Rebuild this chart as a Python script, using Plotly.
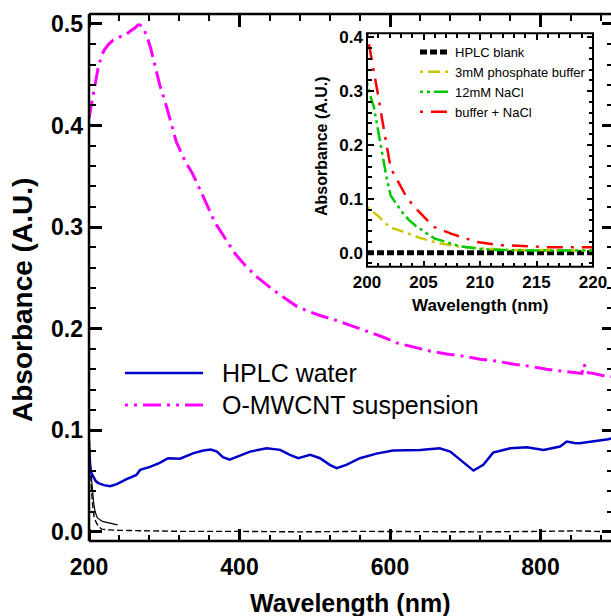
import plotly.graph_objects as go

# ---------------- data ----------------
water_nm = [200, 201.3, 203, 205.7, 209, 212.4, 220, 228, 237, 250, 263, 268, 281, 294, 305, 321, 339, 352,
            362, 370, 378, 387, 401, 414, 436, 454, 467, 478, 494, 507, 520, 529, 542, 560, 582, 604, 640,
            666, 680, 697, 711, 724, 737, 760, 782, 804, 826, 835, 845, 852, 870, 890, 894]
water_abs = [0.079, 0.064, 0.058, 0.054, 0.050, 0.048, 0.046, 0.045, 0.047, 0.052, 0.056, 0.061, 0.064, 0.068,
             0.0725, 0.072, 0.0775, 0.080, 0.081, 0.079, 0.0735, 0.071, 0.075, 0.079, 0.0823, 0.0807, 0.0758,
             0.0725, 0.0758, 0.0725, 0.066, 0.0627, 0.066, 0.0725, 0.077, 0.080, 0.0807, 0.0823, 0.079, 0.069,
             0.0603, 0.066, 0.078, 0.0823, 0.0833, 0.0807, 0.084, 0.0889, 0.0875, 0.0873, 0.0889, 0.0912, 0.092]

cnt_nm = [200, 203, 206, 209, 212, 216, 220, 226, 232, 240, 248, 255, 261, 265, 268, 272, 277, 282, 288, 294,
          301, 308, 316, 327, 338, 350, 367, 380, 394, 408, 423, 445, 460, 476, 492, 507, 525, 542, 560, 575,
          590, 609, 630, 653, 675, 697, 720, 742, 765, 786, 808, 830, 845, 855, 858, 861, 870, 882, 894]
cnt_abs = [0.407, 0.418, 0.432, 0.444, 0.456, 0.467, 0.474, 0.480, 0.484, 0.487, 0.489, 0.493, 0.496, 0.499,
           0.499, 0.496, 0.488, 0.476, 0.458, 0.440, 0.424, 0.404, 0.384, 0.366, 0.352, 0.333, 0.305, 0.290,
           0.274, 0.262, 0.251, 0.238, 0.230, 0.222, 0.217, 0.213, 0.209, 0.205, 0.200, 0.196, 0.192, 0.186,
           0.182, 0.178, 0.175, 0.173, 0.170, 0.168, 0.165, 0.163, 0.160, 0.158, 0.157, 0.156, 0.165, 0.157,
           0.156, 0.154, 0.153]

blankA_nm = [200, 201.5, 203.5, 206, 208, 211, 214.5, 219, 223.5, 230, 238]
blankA_abs = [0.097, 0.075, 0.051, 0.030, 0.020, 0.014, 0.0118, 0.010, 0.0092, 0.008, 0.0069]

blankB_nm = [200, 201.5, 203, 205, 207, 210, 213, 217, 225, 240, 270, 320, 400, 480, 560, 640, 720, 800, 850, 894]
blankB_abs = [0.100, 0.070, 0.045, 0.025, 0.014, 0.0086, 0.005, 0.0027, 0.002, 0.0015, 0.001, 0.0005, 0.0005,
              0.0, 0.0005, 0.0, 0.0, 0.0005, 0.001, 0.0]

ins_blank_nm = [200, 205, 210, 215, 220]
ins_blank_abs = [0, 0, 0, 0, 0]

ins_buf_nm = [200, 200.4, 201, 202, 202.8, 204, 204.6, 206.3, 208, 210, 211, 213, 215, 217, 220]
ins_buf_abs = [0.085, 0.078, 0.068, 0.047, 0.042, 0.033, 0.028, 0.018, 0.012, 0.008, 0.007, 0.005, 0.005,
               0.004, 0.004]

ins_nacl_nm = [200, 200.3, 200.6, 200.8, 201.2, 201.4, 201.8, 202.1, 203.2, 203.7, 204.3, 204.9, 206, 207,
               207.6, 208.2, 210, 211.8, 215, 220]
ins_nacl_abs = [0.316, 0.290, 0.272, 0.250, 0.205, 0.178, 0.132, 0.106, 0.073, 0.061, 0.050, 0.041, 0.026,
                0.020, 0.016, 0.012, 0.007, 0.005, 0.004, 0.004]

ins_mix_nm = [200, 200.3, 200.9, 201.5, 202.1, 203.4, 204.1, 205.9, 207.5, 209.7, 210.9, 211.8, 214.4, 215.9,
              218, 220]
ins_mix_abs = [0.407, 0.373, 0.302, 0.228, 0.157, 0.107, 0.087, 0.048, 0.035, 0.020, 0.017, 0.014, 0.012,
               0.010, 0.010, 0.010]

main_legend = ["HPLC water", "O-MWCNT suspension"]
inset_legend = ["HPLC blank", "3mM phosphate buffer", "12mM NaCl", "buffer + NaCl"]

# ---------------- layout geometry ----------------
W, H = 611, 616
L, R, T, B = 89, 0, 14, 75
PW, PH = W - L - R, H - T - B


def px(xp):
    return (xp - L) / PW


def py(yp):
    return (H - B - yp) / PH


FONT = "Liberation Sans, Arial, Helvetica, sans-serif"
BLUE = "#0000c8"
MAG = "#ff00ff"
YEL = "#c8c800"
GRN = "#00c800"
RED = "#ff0000"

fig = go.Figure()

fig.add_trace(go.Scatter(x=blankB_nm, y=blankB_abs, mode="lines", showlegend=False,
                         line=dict(color="black", width=1.4, dash="6px,3px")))
fig.add_trace(go.Scatter(x=blankA_nm, y=blankA_abs, mode="lines", showlegend=False,
                         line=dict(color="black", width=1.2)))
fig.add_trace(go.Scatter(x=water_nm, y=water_abs, mode="lines", name=main_legend[0], showlegend=False,
                         line=dict(color=BLUE, width=2.5)))
fig.add_trace(go.Scatter(x=cnt_nm, y=cnt_abs, mode="lines", name=main_legend[1], showlegend=False,
                         line=dict(color=MAG, width=3, dash="18px,6px,3px,6px")))

# empty helper traces so every extra tick / label axis is created
for xa, ya in [("x3", "y"), ("x5", "y"), ("x7", "y"), ("x", "y4"), ("x", "y3"), ("x", "y7"),
               ("x4", "y2"), ("x6", "y2"), ("x8", "y2"), ("x2", "y5"), ("x2", "y6"), ("x2", "y8")]:
    fig.add_trace(go.Scatter(x=[], y=[], xaxis=xa, yaxis=ya, showlegend=False, hoverinfo="skip"))

fig.add_trace(go.Scatter(x=ins_blank_nm, y=ins_blank_abs, mode="lines", name=inset_legend[0],
                         xaxis="x2", yaxis="y2", legend="legend2",
                         line=dict(color="black", width=5, dash="7px,3px")))
fig.add_trace(go.Scatter(x=ins_buf_nm, y=ins_buf_abs, mode="lines", name=inset_legend[1],
                         xaxis="x2", yaxis="y2", legend="legend2",
                         line=dict(color=YEL, width=2.5, dash="3px,5px,12px,5px")))
fig.add_trace(go.Scatter(x=ins_nacl_nm, y=ins_nacl_abs, mode="lines", name=inset_legend[2],
                         xaxis="x2", yaxis="y2", legend="legend2",
                         line=dict(color=GRN, width=2.5, dash="3px,4px,3px,4px,14px,4px")))
fig.add_trace(go.Scatter(x=ins_mix_nm, y=ins_mix_abs, mode="lines", name=inset_legend[3],
                         xaxis="x2", yaxis="y2", legend="legend2",
                         line=dict(color=RED, width=2.5, dash="3px,8px,16px,8px")))

tickfont_main = dict(family=FONT, size=23, color="black", weight="bold")
tickfont_ins = dict(family=FONT, size=17, color="black", weight="bold")

xr = [200, 200 + PW / 0.7525]
yr = [-0.009, 0.5098]
xr_ins = [200, 220]
yr_ins = [-0.026, 0.4074]
dom_x_ins = [px(367), px(593)]
dom_y_ins = [py(266.7), py(33.3)]

common = dict(showgrid=False, zeroline=False, automargin=False, tickmode="linear", tickcolor="black",
              showline=False)
base_axis = dict(ticks="", showticklabels=False, **common)


def label_axis(over, side, anchor, rng, t0, dt, font, standoff, **kw):
    return dict(overlaying=over, side=side, anchor=anchor, range=rng, tick0=t0, dtick=dt,
                ticks="", showticklabels=True, tickfont=font, ticklabelstandoff=standoff, **common, **kw)


def tick_axis(over, side, pos, rng, t0, dt, mt, length, width, mlen, mwidth):
    # an axis placed on the opposite edge with "outside" ticks -> ticks point into the plot
    return dict(overlaying=over, side=side, anchor="free", position=pos, range=rng, tick0=t0, dtick=dt,
                ticks="outside", ticklen=length, tickwidth=width, showticklabels=False,
                minor=dict(ticks="outside", ticklen=mlen, tickwidth=mwidth, tickcolor="black", dtick=mt,
                           tick0=t0, showgrid=False),
                **common)


fig.update_layout(
    template="none",
    width=W, height=H, autosize=False,
    margin=dict(l=L, r=R, t=T, b=B, pad=0),
    paper_bgcolor="white", plot_bgcolor="white",
    font=dict(family=FONT, color="black"),
    xaxis=dict(domain=[0, 1], range=xr, anchor="y", **base_axis),
    yaxis=dict(domain=[0, 1], range=yr, anchor="x", **base_axis),
    xaxis2=dict(domain=dom_x_ins, range=xr_ins, anchor="y2", **base_axis),
    yaxis2=dict(domain=dom_y_ins, range=yr_ins, anchor="x2", **base_axis),
    xaxis3=label_axis("x", "bottom", "y", xr, 200, 200, tickfont_main, 10),
    yaxis4=label_axis("y", "left", "x", yr, 0, 0.1, tickfont_main, 5, tickformat=".1f"),
    xaxis5=tick_axis("x", "top", 0, xr, 200, 200, 40, 12, 2.5, 6, 2),
    xaxis7=tick_axis("x", "bottom", 1, xr, 200, 200, 40, 12, 2.5, 6, 2),
    yaxis7=tick_axis("y", "right", 0, yr, 0, 0.1, 0.02, 12, 2.5, 6, 2),
    yaxis3=dict(overlaying="y", side="right", anchor="x", range=yr, showticklabels=False,
                ticks="inside", ticklen=9, tickwidth=2.5, tick0=0, dtick=0.1,
                minor=dict(ticks="inside", ticklen=4, tickwidth=2, tickcolor="black", dtick=0.02, tick0=0,
                           showgrid=False),
                **common),
    xaxis4=label_axis("x2", "bottom", "y2", xr_ins, 200, 5, tickfont_ins, 3),
    yaxis5=label_axis("y2", "left", "x2", yr_ins, 0, 0.1, tickfont_ins, 3, tickformat=".1f"),
    xaxis6=tick_axis("x2", "top", dom_y_ins[0], xr_ins, 200, 5, 1, 6, 2, 4, 1.5),
    xaxis8=tick_axis("x2", "bottom", dom_y_ins[1], xr_ins, 200, 5, 1, 6, 2, 4, 1.5),
    yaxis6=tick_axis("y2", "right", dom_x_ins[0], yr_ins, 0, 0.1, 0.02, 6, 2, 4, 1.5),
    yaxis8=tick_axis("y2", "left", dom_x_ins[1], yr_ins, 0, 0.1, 0.02, 6, 2, 4, 1.5),
    legend2=dict(x=px(415), y=py(37), xanchor="left", yanchor="top", bgcolor="rgba(0,0,0,0)",
                 borderwidth=0,
                 font=dict(family=FONT, size=13, color="black"), tracegroupgap=0, itemwidth=30),
    showlegend=True,
)

# axis spines
spine = dict(color="black", width=2.5)
fig.add_shape(type="line", xref="paper", yref="paper", x0=0, x1=0, y0=0, y1=1, line=spine, layer="above")
fig.add_shape(type="line", xref="paper", yref="paper", x0=0, x1=1, y0=0, y1=0, line=spine, layer="above")
fig.add_shape(type="line", xref="paper", yref="paper", x0=0, x1=1, y0=1, y1=1, line=spine, layer="above")
fig.add_shape(type="rect", xref="paper", yref="paper", x0=dom_x_ins[0], x1=dom_x_ins[1],
              y0=dom_y_ins[0], y1=dom_y_ins[1],
              line=dict(color="black", width=2), fillcolor="rgba(0,0,0,0)", layer="above")

# main legend (line samples + text)
fig.add_shape(type="line", xref="paper", yref="paper", x0=px(125), x1=px(203), y0=py(373), y1=py(373),
              line=dict(color=BLUE, width=2.5))
fig.add_shape(type="line", xref="paper", yref="paper", x0=px(125), x1=px(203), y0=py(405), y1=py(405),
              line=dict(color=MAG, width=3, dash="3px,6px,3px,6px,18px,6px"))
fig.add_annotation(xref="paper", yref="paper", x=px(220), y=py(373), xanchor="left", yanchor="middle",
                   text=main_legend[0], showarrow=False, font=dict(family=FONT, size=25, color="black"))
fig.add_annotation(xref="paper", yref="paper", x=px(220), y=py(405), xanchor="left", yanchor="middle",
                   text=main_legend[1], showarrow=False, font=dict(family=FONT, size=25, color="black"))

# axis titles
fig.add_annotation(xref="paper", yref="paper", x=px(350), y=py(603), xanchor="center", yanchor="middle",
                   text="Wavelength (nm)", showarrow=False,
                   font=dict(family=FONT, size=25, color="black", weight="bold"))
fig.add_annotation(xref="paper", yref="paper", x=px(22), y=py(300), xanchor="center", yanchor="middle",
                   text="Absorbance (A.U.)", textangle=-90, showarrow=False,
                   font=dict(family=FONT, size=28, color="black", weight="bold"))
fig.add_annotation(xref="paper", yref="paper", x=px(480), y=py(305), xanchor="center", yanchor="middle",
                   text="Wavelength (nm)", showarrow=False,
                   font=dict(family=FONT, size=17, color="black", weight="bold"))
fig.add_annotation(xref="paper", yref="paper", x=px(321), y=py(146), xanchor="center", yanchor="middle",
                   text="Absorbance (A.U.)", textangle=-90, showarrow=False,
                   font=dict(family=FONT, size=16, color="black", weight="bold"))

fig.write_html("out.html")
